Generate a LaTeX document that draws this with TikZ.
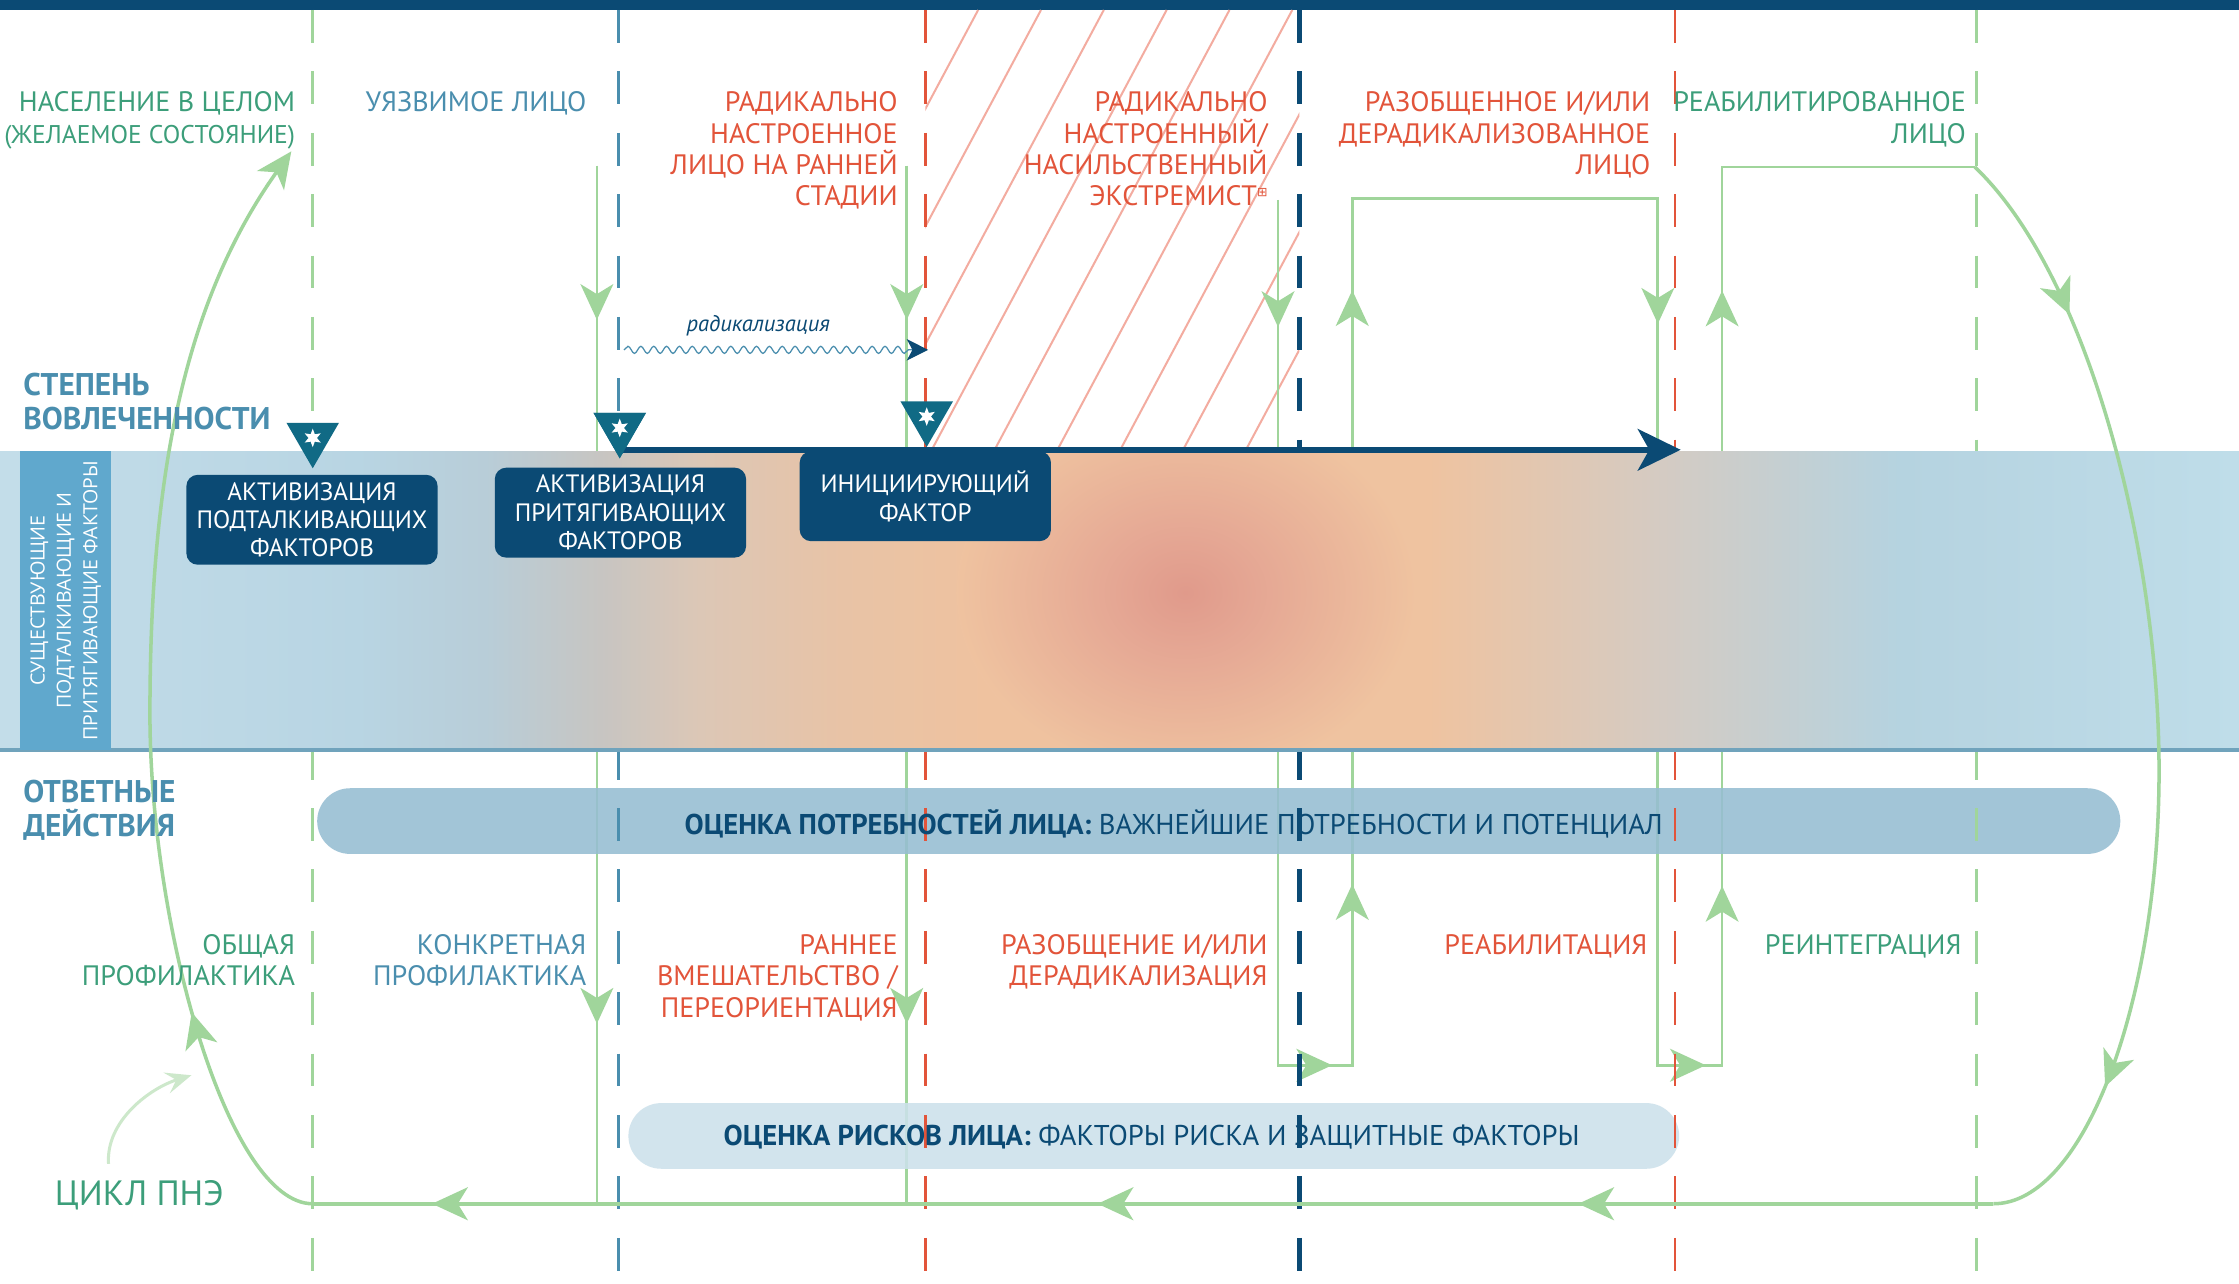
\documentclass[tikz,border=0pt]{standalone}
\usepackage{fontspec}
\setmainfont{PT Sans}
\newfontfamily\widefont{Open Sans}
\newfontfamily\symfont{DejaVu Sans}
\usetikzlibrary{arrows.meta,positioning,shapes.geometric,decorations.pathmorphing,decorations.markings}

\definecolor{navy}{RGB}{11,74,116}
\definecolor{markerc}{RGB}{16,106,133}
\definecolor{steel}{RGB}{74,142,174}
\definecolor{grn}{RGB}{60,158,122}
\definecolor{rd}{RGB}{226,84,58}
\definecolor{lgrn}{RGB}{160,213,155}
\definecolor{hintc}{RGB}{205,232,203}
\definecolor{hatchc}{RGB}{243,172,160}
\definecolor{pillA}{RGB}{150,190,210}
\definecolor{pillB}{RGB}{204,225,235}
\definecolor{sideboxc}{RGB}{96,168,205}
\definecolor{bandline}{RGB}{112,163,188}

\pgfdeclarehorizontalshading{bandshade}{100bp}{rgb(0bp)=(0.765,0.867,0.914); rgb(25bp)=(0.765,0.867,0.914); rgb(32.97bp)=(0.722,0.835,0.890); rgb(35.84bp)=(0.722,0.804,0.847); rgb(38.39bp)=(0.780,0.773,0.761); rgb(40.63bp)=(0.863,0.780,0.714); rgb(43.81bp)=(0.910,0.765,0.651); rgb(47bp)=(0.937,0.761,0.624); rgb(56.89bp)=(0.937,0.765,0.627); rgb(62.15bp)=(0.831,0.796,0.765); rgb(67.41bp)=(0.710,0.827,0.878); rgb(75bp)=(0.749,0.867,0.914); rgb(100bp)=(0.749,0.867,0.914)}
\pgfdeclareradialshading{blobshade}{\pgfpoint{0bp}{0bp}}{rgb(0bp)=(0.878,0.604,0.545); rgb(8bp)=(0.898,0.655,0.580); rgb(25bp)=(0.937,0.763,0.626); rgb(50bp)=(0.937,0.763,0.626)}

\tikzset{
  gtip/.tip={Stealth[length=5mm,width=4.6mm,inset=1.4mm]},
  tipat/.style={postaction={decorate,decoration={markings,mark=at position #1 with {\arrow{gtip}}}}},
}

\begin{document}
\begin{tikzpicture}[x=0.02cm,y=-0.02cm,
  guide/.style={line width=1.1pt,dash pattern=on 0.46cm off 0.40cm},
  flow/.style={lgrn,line width=1.1pt,line join=miter},
  loopline/.style={lgrn,line width=1.6pt},
  stagelbl/.style={anchor=north east,align=right,inner sep=0pt,font=\fontsize{11.2}{12.5}\selectfont},
  sidelbl/.style={anchor=north west,align=left,inner sep=0pt,text=steel,font=\bfseries\fontsize{12.5}{13.6}\selectfont},
  factor/.style={fill=navy,rounded corners=0.16cm,text=white,align=center,minimum width=3.52cm,minimum height=1.26cm,inner sep=0pt,font=\fontsize{10}{11.3}\selectfont},
  marker/.style={regular polygon,regular polygon sides=3,shape border rotate=180,fill=markerc,minimum size=0.85cm,inner sep=0pt},
  spark/.style={star,star points=6,star point ratio=2.2,fill=white,minimum size=0.26cm,inner sep=0pt},
  pill/.style={rounded corners=0.46cm,minimum height=0.92cm,inner sep=0pt,fill opacity=0.88},
  pilltext/.style={inner sep=0pt,text=navy,font=\fontsize{11.4}{12}\selectfont}]

\useasboundingbox (0,0) rectangle (1568,899);
\fill[white] (0,0) rectangle (1568,899);
\fill[navy] (0,0) rectangle (1568,7);

% hatched zone of the violent extremist
\begin{scope}
  \clip (648,7) rectangle (910,316);
  \foreach \s in {476,520,...,872}
    \draw[hatchc,line width=0.8pt] (\s,316) -- ++(165,-309);
\end{scope}

% paths of the cycle (behind the band)
\coordinate (vulnTop) at (418,116);
\coordinate (vulnBot) at (418,843);
\coordinate (earlyTop) at (635,116);
\coordinate (earlyBot) at (635,843);
\coordinate (violTop) at (895,140);
\coordinate (violBot) at (895,746);
\coordinate (deradBot) at (947,746);
\coordinate (deradTop) at (947,139);
\coordinate (disTop) at (1161,139);
\coordinate (disBot) at (1161,746);
\coordinate (rehabBot) at (1206,746);
\coordinate (rehabTop) at (1206,117);
\coordinate (reintTop) at (1383,117);
\coordinate (loopR) at (1396,843);
\coordinate (loopL) at (219,843);
\coordinate (popTip) at (204,106);

\draw[flow,tipat=2.16cm,tipat=12.02cm] (vulnTop) -- (vulnBot);
\draw[flow,tipat=2.16cm,tipat=12.02cm] (earlyTop) -- (earlyBot);
\draw[flow,tipat=1.78cm,tipat=12.88cm,tipat=15.70cm,tipat=24.02cm,tipat=31.34cm,tipat=42.40cm,tipat=45.14cm,tipat=53.48cm]
  (violTop) -- (violBot) -- (deradBot) -- (deradTop) -- (disTop) -- (disBot) -- (rehabBot) -- (rehabTop) -- (reintTop);

% assessments
\node[pill,fill=pillA,minimum width=25.26cm] (needsbar) at (853.5,575) {};
\node[pill,fill=pillB,minimum width=14.72cm] (riskbar) at (808,795.5) {};

% stage borders
\draw[guide,lgrn] (219,7) -- (219,899);
\draw[guide,steel] (433,7) -- (433,899);
\draw[guide,rd] (648,7) -- (648,899);
\draw[guide,navy,line width=1.8pt] (910,7) -- (910,899);
\draw[guide,rd] (1173,7) -- (1173,899);
\draw[guide,lgrn] (1384,7) -- (1384,899);

% band of push and pull factors
\shade[shading=bandshade] (0,316) rectangle (1568,525);
\begin{scope}
  \clip (0,316) rectangle (1568,525);
  \shade[shading=blobshade] (830,415) ellipse [x radius=160,y radius=130];
\end{scope}
\draw[bandline,line width=1.6pt] (0,525) -- (1568,525);
\node[fill=sideboxc,rotate=90,minimum width=4.18cm,minimum height=1.28cm,inner sep=0pt,align=center,text=white,font=\widefont\fontsize{7.8}{10.5}\selectfont] (exist) at (46,420.5)
  {СУЩЕСТВУЮЩИЕ\\ПОДТАЛКИВАЮЩИЕ И\\ПРИТЯГИВАЮЩИЕ ФАКТОРЫ};

% the loop back
\draw[flow,line width=1.4pt,tipat=0.155,tipat=0.85]
  (reintTop) .. controls (1460,190) and (1512,380) .. (1512,540) .. controls (1512,700) and (1460,843) .. (loopR);
\draw[loopline,tipat=0.247,tipat=0.533,tipat=0.929] (loopR) -- (loopL);
\draw[flow,line width=1.4pt,tipat=0.21,-gtip]
  (loopL) .. controls (160,843) and (105,650) .. (105,500) .. controls (105,330) and (130,210) .. (popTip);

% engagement
\coordinate (arrowend) at (1177,315);
\node[marker] (m1) at (219,306.7) {};
\node[marker] (m2) at (434,299.7) {};
\node[marker] (m3) at (649,291.7) {};
\draw[navy,line width=2.3pt,-{Stealth[length=6mm,width=5.8mm,inset=1.6mm]}] (m2 |- arrowend) -- (arrowend);
\node[marker] at (m2) {};
\node[spark] (s1) at (m1) {};
\node[spark] (s2) at (m2) {};
\node[spark] (s3) at (m3) {};

\node[factor] (push) at (218.5,364) {АКТИВИЗАЦИЯ\\ПОДТАЛКИВАЮЩИХ\\ФАКТОРОВ};
\node[factor] (pull) at (434.5,359) {АКТИВИЗАЦИЯ\\ПРИТЯГИВАЮЩИХ\\ФАКТОРОВ};
\node[factor] (trigger) at (648,347.5) {ИНИЦИИРУЮЩИЙ\\ФАКТОР};

% radicalisation
\node[inner sep=0pt,text=navy,font=\itshape\fontsize{9}{10}\selectfont] (radlbl) at (531,228) {радикализация};
\coordinate (wv1) at (437,245);
\coordinate (wv2) at (650,245);
\draw[steel,line width=0.5pt,decorate,decoration={snake,amplitude=0.05cm,segment length=0.18cm,post length=0.25cm},
  -{Stealth[color=navy,length=0.3cm,width=0.3cm,inset=0.08cm]}] (wv1) -- (wv2);

% stages of the person
\node[stagelbl,text=grn] (pop) at (207,64) {НАСЕЛЕНИЕ В ЦЕЛОМ\\{\fontsize{10.2}{12.5}\selectfont(ЖЕЛАЕМОЕ СОСТОЯНИЕ)}};
\node[stagelbl,text=steel] (vuln) at (411,64) {УЯЗВИМОЕ ЛИЦО};
\node[stagelbl,text=rd] (early) at (629,64) {РАДИКАЛЬНО\\НАСТРОЕННОЕ\\ЛИЦО НА РАННЕЙ\\СТАДИИ};
\node[stagelbl,text=rd] (violent) at (888,64) {РАДИКАЛЬНО\\НАСТРОЕННЫЙ/\\НАСИЛЬСТВЕННЫЙ\\ЭКСТРЕМИСТ\raisebox{0.7ex}{\symfont\fontsize{5}{5}\selectfont ⊞}};
\node[stagelbl,text=rd] (disengaged) at (1156,64) {РАЗОБЩЕННОЕ И/ИЛИ\\ДЕРАДИКАЛИЗОВАННОЕ\\ЛИЦО};
\node[stagelbl,text=grn] (rehabilitated) at (1377,64) {РЕАБИЛИТИРОВАННОЕ\\ЛИЦО};

% responses
\node[stagelbl,text=grn] (genprev) at (207,654) {ОБЩАЯ\\ПРОФИЛАКТИКА};
\node[stagelbl,text=steel] (specprev) at (411,654) {КОНКРЕТНАЯ\\ПРОФИЛАКТИКА};
\node[stagelbl,text=rd] (earlyint) at (629,654) {РАННЕЕ\\ВМЕШАТЕЛЬСТВО /\\ПЕРЕОРИЕНТАЦИЯ};
\node[stagelbl,text=rd] (derad) at (888,654) {РАЗОБЩЕНИЕ И/ИЛИ\\ДЕРАДИКАЛИЗАЦИЯ};
\node[stagelbl,text=rd] (rehab) at (1154,654) {РЕАБИЛИТАЦИЯ};
\node[stagelbl,text=grn] (reint) at (1374,654) {РЕИНТЕГРАЦИЯ};

\node[pilltext] (needs) at (822,577) {\textbf{ОЦЕНКА ПОТРЕБНОСТЕЙ ЛИЦА:} ВАЖНЕЙШИЕ ПОТРЕБНОСТИ И ПОТЕНЦИАЛ};
\node[pilltext] (risks) at (806.5,796) {\textbf{ОЦЕНКА РИСКОВ ЛИЦА:} ФАКТОРЫ РИСКА И ЗАЩИТНЫЕ ФАКТОРЫ};

\node[sidelbl] (degree) at (16,261) {СТЕПЕНЬ\\ВОВЛЕЧЕННОСТИ};
\node[sidelbl] (response) at (16,546) {ОТВЕТНЫЕ\\ДЕЙСТВИЯ};

% cycle label
\node[anchor=north west,inner sep=0pt,text=grn,font=\fontsize{14}{16}\selectfont] (cycle) at (38,826) {ЦИКЛ ПНЭ};
\coordinate (hintA) at (76,815);
\coordinate (hintB) at (134,753);
\draw[hintc,line width=1.2pt,-{Stealth[length=3.6mm,width=3mm,inset=1.4mm]}] (hintA) .. controls (74,785) and (105,762) .. (hintB);
\end{tikzpicture}
\end{document}
